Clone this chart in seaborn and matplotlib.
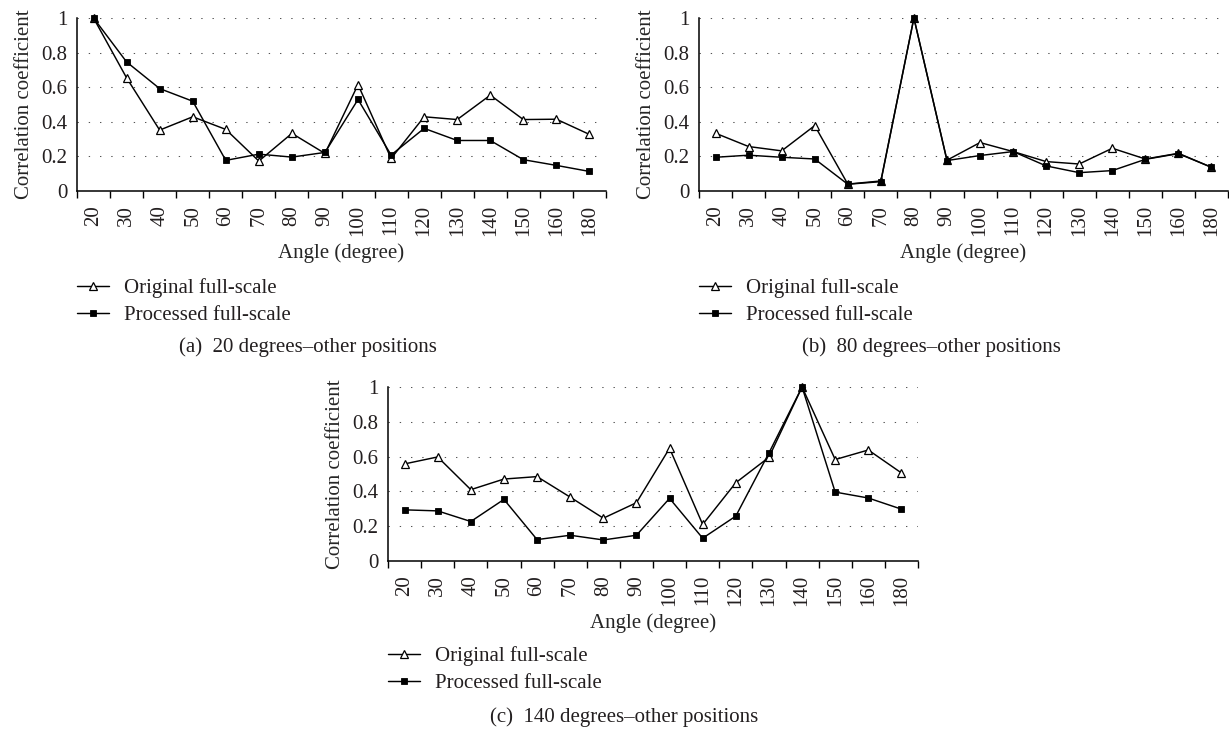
import numpy as np
import pandas as pd
import matplotlib
matplotlib.use("Agg")
import matplotlib.pyplot as plt
from matplotlib.lines import Line2D
import seaborn as sns

angles = ["20", "30", "40", "50", "60", "70", "80", "90",
          "100", "110", "120", "130", "140", "150", "160", "180"]

# (a) 20 degrees vs other positions
orig_a = [1.00, 0.654, 0.352, 0.429, 0.356, 0.173, 0.333, 0.217,
          0.615, 0.188, 0.429, 0.413, 0.554, 0.413, 0.415, 0.327]
proc_a = [1.00, 0.746, 0.592, 0.519, 0.177, 0.213, 0.196, 0.223,
          0.529, 0.208, 0.362, 0.292, 0.292, 0.181, 0.148, 0.113]

# (b) 80 degrees vs other positions
orig_b = [0.334, 0.257, 0.232, 0.378, 0.040, 0.058, 1.00, 0.178,
          0.280, 0.228, 0.170, 0.156, 0.247, 0.185, 0.218, 0.137]
proc_b = [0.195, 0.207, 0.195, 0.185, 0.039, 0.054, 1.00, 0.176,
          0.205, 0.228, 0.145, 0.106, 0.118, 0.183, 0.216, 0.137]

# (c) 140 degrees vs other positions
orig_c = [0.558, 0.598, 0.410, 0.471, 0.485, 0.367, 0.246, 0.335,
          0.648, 0.210, 0.450, 0.596, 1.00, 0.583, 0.638, 0.506]
proc_c = [0.294, 0.288, 0.227, 0.354, 0.123, 0.148, 0.121, 0.148,
          0.360, 0.131, 0.258, 0.621, 1.00, 0.396, 0.362, 0.298]

series_names = ["Original full-scale", "Processed full-scale"]
captions = ["(a)  20 degrees\u2013other positions",
            "(b)  80 degrees\u2013other positions",
            "(c)  140 degrees\u2013other positions"]
y_ticks = [0, 0.2, 0.4, 0.6, 0.8, 1.0]
y_tick_labels = ["0", "0.2", "0.4", "0.6", "0.8", "1"]

sns.set_theme(style="white")
plt.rcParams["font.family"] = ["Liberation Serif", "DejaVu Serif"]
plt.rcParams["text.color"] = "#231f20"

FS = 15
W, H = 1229, 731
fig = plt.figure(figsize=(W / 100, H / 100), dpi=100)


def px_axes(left, top, right, bottom):
    return fig.add_axes([left / W, 1 - bottom / H, (right - left) / W, (bottom - top) / H])


styles = {
    "Original full-scale": dict(marker="^", markerfacecolor="white", markeredgecolor="black",
                                markersize=5.5, markeredgewidth=0.9),
    "Processed full-scale": dict(marker="s", markerfacecolor="black", markeredgecolor="black",
                                 markersize=5, markeredgewidth=0.6),
}


def draw_panel(ax, orig, proc):
    df = pd.DataFrame({
        "angle": angles * 2,
        "value": orig + proc,
        "series": [series_names[0]] * len(angles) + [series_names[1]] * len(angles),
    })
    for name in series_names:
        sub = df[df["series"] == name]
        sns.lineplot(data=sub, x="angle", y="value", ax=ax, color="black",
                     linewidth=1.05, sort=False, clip_on=False, zorder=3,
                     **styles[name])
    n = len(angles)
    ax.set_xlim(-0.5, n - 0.5)
    ax.set_ylim(0, 1)
    ax.set_yticks(y_ticks)
    ax.set_yticklabels(y_tick_labels)
    for y in y_ticks[1:]:
        ax.axhline(y, color="#555555", linewidth=0.75, linestyle=(0, (1.3, 9.5)), zorder=1)
    ax.set_xticks(np.arange(n))
    ax.set_xticklabels(angles, rotation=90, va="top", ha="center")
    ax.set_xticks(np.arange(n + 1) - 0.5, minor=True)
    ax.tick_params(axis="x", which="major", length=0, pad=10, labelsize=FS, colors="#231f20")
    ax.tick_params(axis="x", which="minor", length=5, width=1, direction="out",
                   color="black", bottom=True)
    ax.tick_params(axis="y", length=0, pad=7, labelsize=FS, colors="#231f20")
    for s in ["top", "right"]:
        ax.spines[s].set_visible(False)
    for s in ["left", "bottom"]:
        ax.spines[s].set_color("black")
        ax.spines[s].set_linewidth(1.1)
    ax.set_xlabel("Angle (degree)", fontsize=FS, labelpad=5)
    ax.set_ylabel("Correlation coefficient", fontsize=FS, labelpad=5)
    if ax.get_legend() is not None:
        ax.get_legend().remove()


def draw_legend(x0, y0):
    handles = [Line2D([0], [0], color="black", linewidth=1.05, **styles[n]) for n in series_names]
    fig.legend(handles, series_names, loc="upper left",
               bbox_to_anchor=(x0 / W, 1 - y0 / H), frameon=False, fontsize=FS,
               handlelength=1.55, handletextpad=0.72, labelspacing=0.37,
               borderpad=0, borderaxespad=0)


panels = [
    ((77, 18, 606, 191), orig_a, proc_a, (77, 278), (179, 347)),
    ((699, 18, 1228, 191), orig_b, proc_b, (699, 278), (802, 347)),
    ((388, 387, 918, 561), orig_c, proc_c, (388, 646), (490, 717)),
]

for (box, o, p, leg_pos, cap_pos), cap in zip(panels, captions):
    ax = px_axes(*box)
    draw_panel(ax, o, p)
    draw_legend(*leg_pos)
    fig.text(cap_pos[0] / W, 1 - cap_pos[1] / H, cap, fontsize=FS,
             ha="left", va="center")

fig.savefig("out.png", dpi=100, facecolor="white")
